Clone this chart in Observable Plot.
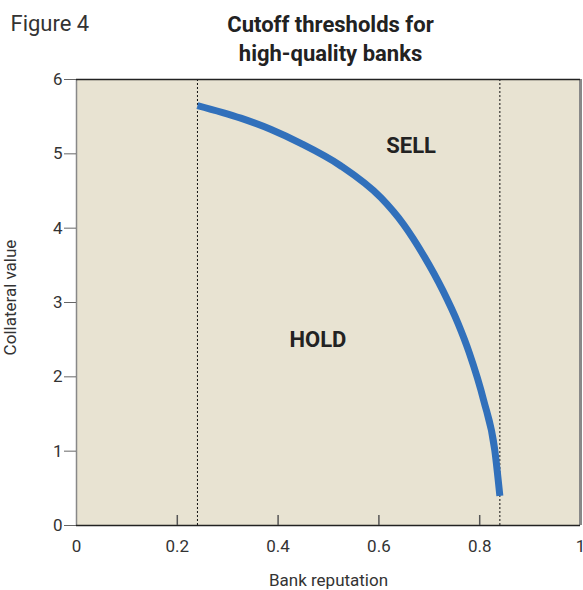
<!DOCTYPE html>
<html>
<head>
<meta charset="utf-8">
<script src="https://cdn.jsdelivr.net/npm/d3@7"></script>
<script src="https://cdn.jsdelivr.net/npm/@observablehq/plot@0.6"></script>
<style>
  html, body { margin: 0; padding: 0; background: #fff; }
</style>
</head>
<body>
<div id="chart"></div>
<script>
// ---- data ----
const reputation = [0.24, 0.326, 0.385, 0.445, 0.524, 0.604, 0.649, 0.689, 0.727, 0.757, 0.779, 0.808, 0.830, 0.84];
const collateral = [5.65, 5.48, 5.33, 5.14, 4.84, 4.41, 4.05, 3.63, 3.16, 2.72, 2.33, 1.68, 1.01, 0.40];
const cutoffs = [0.24, 0.84];
const xTicks = [0, 0.2, 0.4, 0.6, 0.8, 1];
const xTickLabels = ["0", "0.2", "0.4", "0.6", "0.8", "1"];
const yTicks = [0, 1, 2, 3, 4, 5, 6];
const regionNames = ["SELL", "HOLD"];
const regionX = [0.664, 0.479];
const regionY = [5.11, 2.49];

const curve = reputation.map((x, i) => ({x, y: collateral[i]}));
const regions = regionNames.map((t, i) => ({t, x: regionX[i], y: regionY[i]}));

const FONT = "Roboto, 'Liberation Sans', sans-serif";

const chart = Plot.plot({
  width: 583,
  height: 590,
  marginLeft: 76,
  marginRight: 3,
  marginTop: 79,
  marginBottom: 65,
  style: {fontFamily: FONT, fontSize: "17px", color: "#333", background: "#fff"},
  x: {domain: [0, 1]},
  y: {domain: [0, 6]},
  marks: [
    Plot.frame({fill: "#e8e3d2", stroke: "none"}),
    Plot.ruleX(cutoffs, {stroke: "#111", strokeWidth: 1, strokeDasharray: "2,2"}),
    Plot.line(curve, {x: "x", y: "y", stroke: "#3170bb", strokeWidth: 7, curve: "monotone-x", strokeLinecap: "butt"}),
    Plot.text(regions, {x: "x", y: "y", text: "t", fontWeight: "bold", fontSize: 22, fill: "#222", letterSpacing: "-0.5px"}),
    // frame borders
    Plot.ruleX([0], {stroke: "#888", strokeWidth: 1.5}),
    Plot.ruleX([1], {stroke: "#888", strokeWidth: 3}),
    Plot.ruleY([6], {stroke: "#222", strokeWidth: 1.5}),
    Plot.ruleY([0], {stroke: "#222", strokeWidth: 1.5}),
    // x ticks pointing inward
    Plot.tickX(xTicks.slice(1, -1), {x: d => d, stroke: "#555", strokeWidth: 1.5, insetTop: 436}),
    Plot.axisX({ticks: xTicks, tickFormat: (d, i) => xTickLabels[i], tickSize: 0, tickPadding: 14, fontSize: 17, label: null}),
    Plot.axisY({ticks: yTicks, tickFormat: d => String(d), tickSize: 12, tickPadding: 2, stroke: "#666", fontSize: 17, label: null}),
    // axis labels and titles
    Plot.text(["Bank reputation"], {frameAnchor: "bottom", dy: 55, textAnchor: "middle", lineAnchor: "middle", fontSize: 17, fill: "#333"}),
    Plot.text(["Collateral value"], {frameAnchor: "left", dx: -66, dy: -5, rotate: -90, textAnchor: "middle", lineAnchor: "middle", fontSize: 17, fill: "#333"}),
    Plot.text(["Figure 4"], {frameAnchor: "top-left", dx: -66, dy: -56, textAnchor: "start", lineAnchor: "middle", fontSize: 22, fill: "#333"}),
    Plot.text(["Cutoff thresholds for\nhigh-quality banks"], {frameAnchor: "top", dx: 2, dy: -42, textAnchor: "middle", lineAnchor: "middle", lineHeight: 1.3, fontSize: 22, fontWeight: "bold", fill: "#222", letterSpacing: "-0.5px"})
  ]
});
document.getElementById("chart").appendChild(chart);
</script>
</body>
</html>
